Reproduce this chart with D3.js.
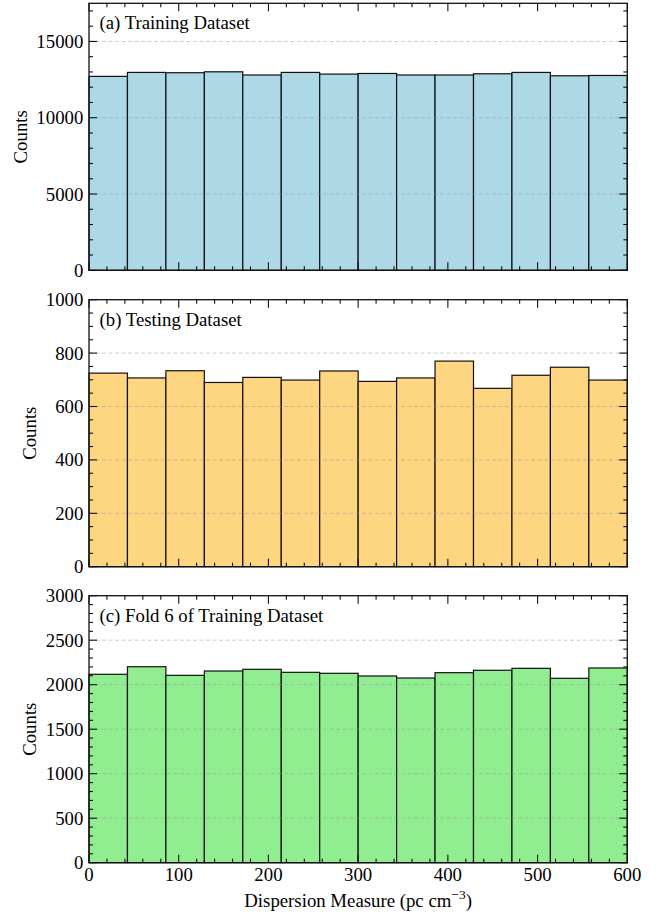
<!DOCTYPE html>
<html>
<head>
<meta charset="utf-8">
<script src="https://cdn.jsdelivr.net/npm/d3@7"></script>
<style>
  body { margin: 0; background: white; }
</style>
</head>
<body>
<script>
// bin edges of the DM histograms (pc cm^-3)
var binEdges = [0, 42.86, 85.71, 128.57, 171.43, 214.29, 257.14, 300,
                342.86, 385.71, 428.57, 471.43, 514.29, 557.14, 600];

var trainCounts = [12710, 12970, 12950, 13010, 12800, 12970, 12860,
                   12900, 12800, 12800, 12880, 12970, 12750, 12770];
var testCounts = [725, 707, 734, 690, 709, 699, 733,
                  694, 707, 770, 668, 717, 747, 699];
var foldCounts = [2117, 2202, 2105, 2154, 2173, 2139, 2128,
                  2098, 2075, 2135, 2162, 2184, 2072, 2188];

var panelLabels = ["(a) Training Dataset", "(b) Testing Dataset", "(c) Fold 6 of Training Dataset"];
var xTicks = [0, 100, 200, 300, 400, 500, 600];

var panels = [
    {label: panelLabels[0], counts: trainCounts, ymax: 17500, major: 5000, minor: 1000, fill: "#add8e6"},
    {label: panelLabels[1], counts: testCounts, ymax: 1000, major: 200, minor: 50, fill: "#fed580"},
    {label: panelLabels[2], counts: foldCounts, ymax: 3000, major: 500, minor: 100, fill: "#90ee90"}
];

var W = 660, H = 914;
var left = 89, right = 627.3,
    panel_h = 267,
    tops = [3.3, 299.7, 595.7];

var major_len = 8, minor_len = 4,
    font_size = 18.8,
    serif = '"Liberation Serif", "Times New Roman", serif';

var svg = d3.select("body").append("svg")
    .attr("width", W)
    .attr("height", H)
    .style("font-family", serif);

var x = d3.scaleLinear().domain([0, 600]).range([left, right]);

panels.forEach(function(p, i) {
    var top = tops[i], bottom = top + panel_h;
    var y = d3.scaleLinear().domain([0, p.ymax]).range([bottom, top]);
    var g = svg.append("g");

    var bins = p.counts.map(function(c, k) {
        return {x0: binEdges[k], x1: binEdges[k + 1], n: c};
    });

    // bars
    g.append("g").selectAll("rect")
        .data(bins)
        .join("rect")
        .attr("x", function(d) { return x(d.x0); })
        .attr("y", function(d) { return y(d.n); })
        .attr("width", function(d) { return x(d.x1) - x(d.x0); })
        .attr("height", function(d) { return y(0) - y(d.n); })
        .attr("fill", p.fill)
        .attr("stroke", "#111")
        .attr("stroke-width", 1.2);

    // dashed grid on major y ticks
    var majors = d3.range(p.major, p.ymax, p.major);
    g.append("g").selectAll("line")
        .data(majors)
        .join("line")
        .attr("x1", left)
        .attr("x2", right)
        .attr("y1", function(d) { return y(d); })
        .attr("y2", function(d) { return y(d); })
        .attr("stroke", "#999")
        .attr("stroke-opacity", 0.55)
        .attr("stroke-width", 0.9)
        .attr("stroke-dasharray", "4,2.5");

    // inward ticks on all four sides
    var yMajor = d3.range(0, p.ymax + 0.1, p.major);
    var yMinor = d3.range(0, p.ymax + 0.1, p.minor).filter(function(v) { return v % p.major !== 0; });
    var xMinor = d3.range(0, 601, 20).filter(function(v) { return v % 100 !== 0; });

    var ticks = g.append("g").attr("stroke", "#111").attr("stroke-width", 1.1);
    function yTicks(vals, len) {
        vals.forEach(function(v) {
            ticks.append("line").attr("x1", left).attr("x2", left + len)
                .attr("y1", y(v)).attr("y2", y(v));
            ticks.append("line").attr("x1", right).attr("x2", right - len)
                .attr("y1", y(v)).attr("y2", y(v));
        });
    }
    function xTickMarks(vals, len) {
        vals.forEach(function(v) {
            ticks.append("line").attr("x1", x(v)).attr("x2", x(v))
                .attr("y1", bottom).attr("y2", bottom - len);
            ticks.append("line").attr("x1", x(v)).attr("x2", x(v))
                .attr("y1", top).attr("y2", top + len);
        });
    }
    yTicks(yMajor, major_len);
    yTicks(yMinor, minor_len);
    xTickMarks(xTicks, major_len);
    xTickMarks(xMinor, minor_len);

    // frame
    g.append("rect")
        .attr("x", left).attr("y", top)
        .attr("width", right - left).attr("height", panel_h)
        .attr("fill", "none")
        .attr("stroke", "#111")
        .attr("stroke-width", 1.3);

    // y tick labels
    var yl = g.append("g");
    yl.selectAll("text")
        .data(yMajor)
        .join("text")
        .attr("x", left - 5.7)
        .attr("y", function(d) { return y(d); })
        .attr("dy", "0.35em")
        .attr("text-anchor", "end")
        .attr("font-size", font_size)
        .text(function(d) { return d; });

    var bb = yl.node().getBBox();
    svg.append("text")
        .attr("transform", "translate(" + (bb.x - 9.5) + "," + (top + panel_h / 2) + ") rotate(-90)")
        .attr("text-anchor", "middle")
        .attr("font-size", font_size)
        .text("Counts");

    // panel label
    g.append("text")
        .attr("x", left + 10.5)
        .attr("y", top + 26)
        .attr("font-size", font_size)
        .text(p.label);

    // x tick labels only on the last panel
    if (i === panels.length - 1) {
        g.append("g").selectAll("text")
            .data(xTicks)
            .join("text")
            .attr("x", function(d) { return x(d); })
            .attr("y", bottom + 18)
            .attr("text-anchor", "middle")
            .attr("font-size", font_size)
            .text(function(d) { return d; });

        var xl = svg.append("text")
            .attr("x", (left + right) / 2)
            .attr("y", bottom + 44)
            .attr("text-anchor", "middle")
            .attr("font-size", font_size);
        xl.append("tspan").text("Dispersion Measure (pc cm");
        xl.append("tspan").attr("dy", -7.5).attr("font-size", 13.5).text("\u22123");
        xl.append("tspan").attr("dy", 7.5).text(")");
    }
});
</script>
</body>
</html>
